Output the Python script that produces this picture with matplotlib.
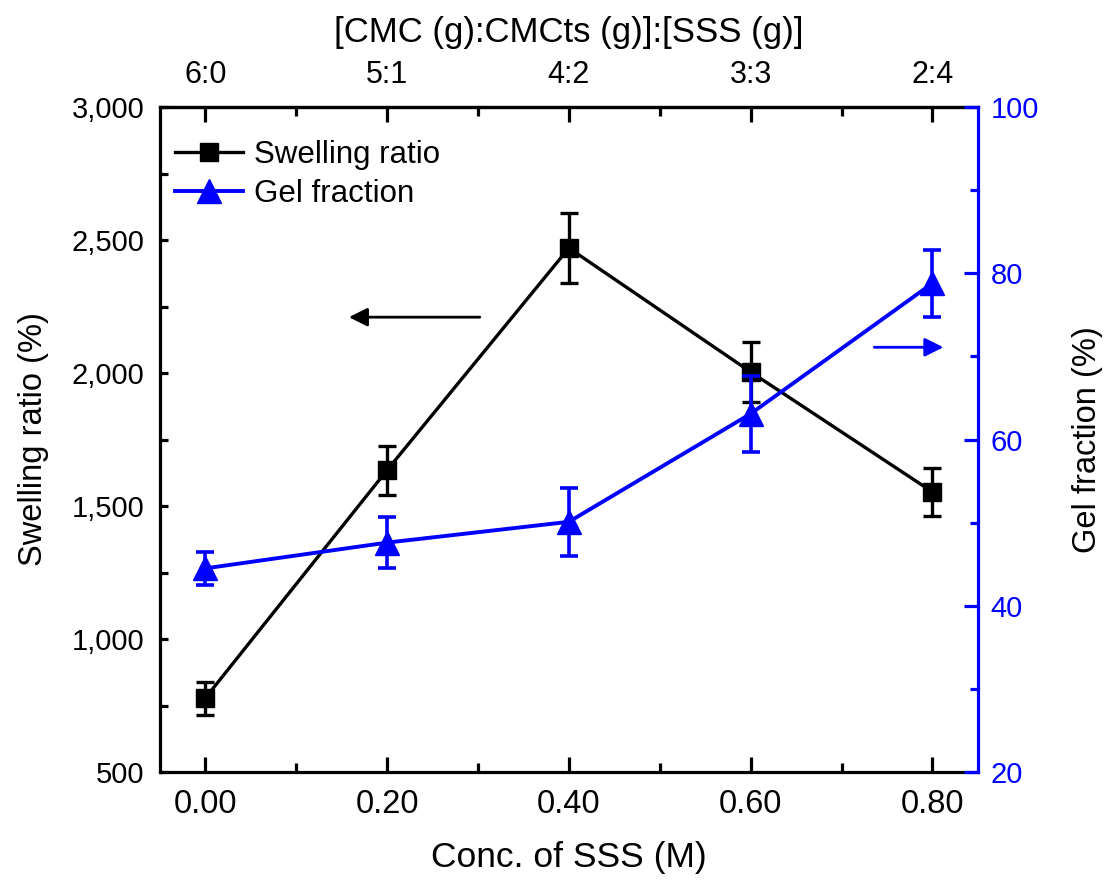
import matplotlib
matplotlib.use("Agg")
import matplotlib.pyplot as plt
from matplotlib.ticker import FuncFormatter, MultipleLocator
from matplotlib.lines import Line2D

plt.rcParams['font.family'] = ['Liberation Sans', 'DejaVu Sans']

# Data
conc = [0.00, 0.20, 0.40, 0.60, 0.80]
ratio_labels = ['6:0', '5:1', '4:2', '3:3', '2:4']
swelling = [778, 1635, 2470, 2004, 1553]
swelling_err = [62, 92, 130, 112, 90]
gel = [44.5, 47.6, 50.1, 63.1, 78.8]
gel_err = [2.0, 3.1, 4.1, 4.6, 4.0]

fig = plt.figure(figsize=(11.10, 8.81), dpi=100)
ax = fig.add_axes([0.144, 0.1237, 0.737, 0.7548])
ax2 = ax.twinx()

# Swelling ratio on the left axis
ax.errorbar(conc, swelling, yerr=swelling_err, color='black', lw=2.4,
            marker='s', ms=13, mfc='black', mec='black',
            elinewidth=2.4, capsize=6.5, capthick=2.4, zorder=3)
# Gel fraction on the right axis
ax2.errorbar(conc, gel, yerr=gel_err, color='blue', lw=2.8,
             marker='^', ms=17, mfc='blue', mec='blue',
             elinewidth=2.6, capsize=6.5, capthick=2.6, zorder=3)

ax.set_xlim(-0.05, 0.85)
ax.set_ylim(500, 3000)
ax2.set_ylim(20, 100)

ax.set_xticks(conc)
ax.set_xticklabels([f"{c:.2f}" for c in conc])
ax.xaxis.set_minor_locator(MultipleLocator(0.1))
ax.yaxis.set_major_locator(MultipleLocator(500))
ax.yaxis.set_minor_locator(MultipleLocator(250))
ax.yaxis.set_major_formatter(FuncFormatter(lambda v, p: f"{v:,.0f}"))
ax2.yaxis.set_major_locator(MultipleLocator(20))
ax2.yaxis.set_minor_locator(MultipleLocator(10))

lw_spine = 2.3
for s in ax.spines.values():
    s.set_linewidth(lw_spine)
    s.set_color('black')
for name, s in ax2.spines.items():
    s.set_linewidth(lw_spine)
    if name == 'right':
        s.set_color('blue')
    else:
        s.set_visible(False)
ax.spines['right'].set_visible(False)

ax.tick_params(axis='x', which='major', direction='in', length=11, width=2.3,
               labelsize=23.5, pad=12, top=False)
ax.tick_params(axis='x', which='minor', direction='in', length=6.5, width=2.3, top=False)
ax.tick_params(axis='y', which='both', direction='in', length=6, width=2.3,
               labelsize=21, pad=11, right=False)
ax2.tick_params(axis='y', which='major', direction='in', length=10, width=2.3,
                colors='blue', labelsize=21, pad=9)
ax2.tick_params(axis='y', which='minor', direction='in', length=6, width=2.3,
                colors='blue')

ax.set_xlabel('Conc. of SSS (M)', fontsize=25.5)
ax.set_ylabel('Swelling ratio (%)', fontsize=23.5)
ax2.set_ylabel('Gel fraction (%)', fontsize=23.5, color='black')
ax.xaxis.set_label_coords(0.5, -0.103)
ax.yaxis.set_label_coords(-0.136, 0.5)
ax2.yaxis.set_label_coords(1.115, 0.5)

# Top axis: mass ratios of the blends
top = ax.secondary_xaxis('top')
top.set_xticks(conc)
top.set_xticklabels(ratio_labels)
top.xaxis.set_minor_locator(MultipleLocator(0.1))
top.tick_params(axis='x', which='major', direction='in', length=11, width=2.3,
                labelsize=22, pad=12)
top.tick_params(axis='x', which='minor', direction='in', length=6.5, width=2.3)
top.spines['top'].set_linewidth(lw_spine)
top.set_xlabel('[CMC (g):CMCts (g)]:[SSS (g)]', fontsize=25, labelpad=13)

# Arrows pointing to the respective axes
ax.annotate('', xy=(0.158, 2210), xytext=(0.302, 2210),
            arrowprops=dict(arrowstyle='-|>', color='black', lw=2,
                            mutation_scale=28, shrinkA=0, shrinkB=0))
ax2.annotate('', xy=(0.812, 71.1), xytext=(0.736, 71.1),
             arrowprops=dict(arrowstyle='-|>', color='blue', lw=2,
                             mutation_scale=28, shrinkA=0, shrinkB=0))

handles = [
    Line2D([], [], color='black', lw=2.4, marker='s', ms=13),
    Line2D([], [], color='blue', lw=2.8, marker='^', ms=17),
]
ax.legend(handles, ['Swelling ratio', 'Gel fraction'], loc='upper left',
          bbox_to_anchor=(-0.022, 1.0), frameon=False, fontsize=22.5,
          handlelength=2.2, handletextpad=0.33, labelspacing=0.3,
          borderaxespad=0.7, borderpad=0.35)

fig.savefig('out.png', dpi=100)
